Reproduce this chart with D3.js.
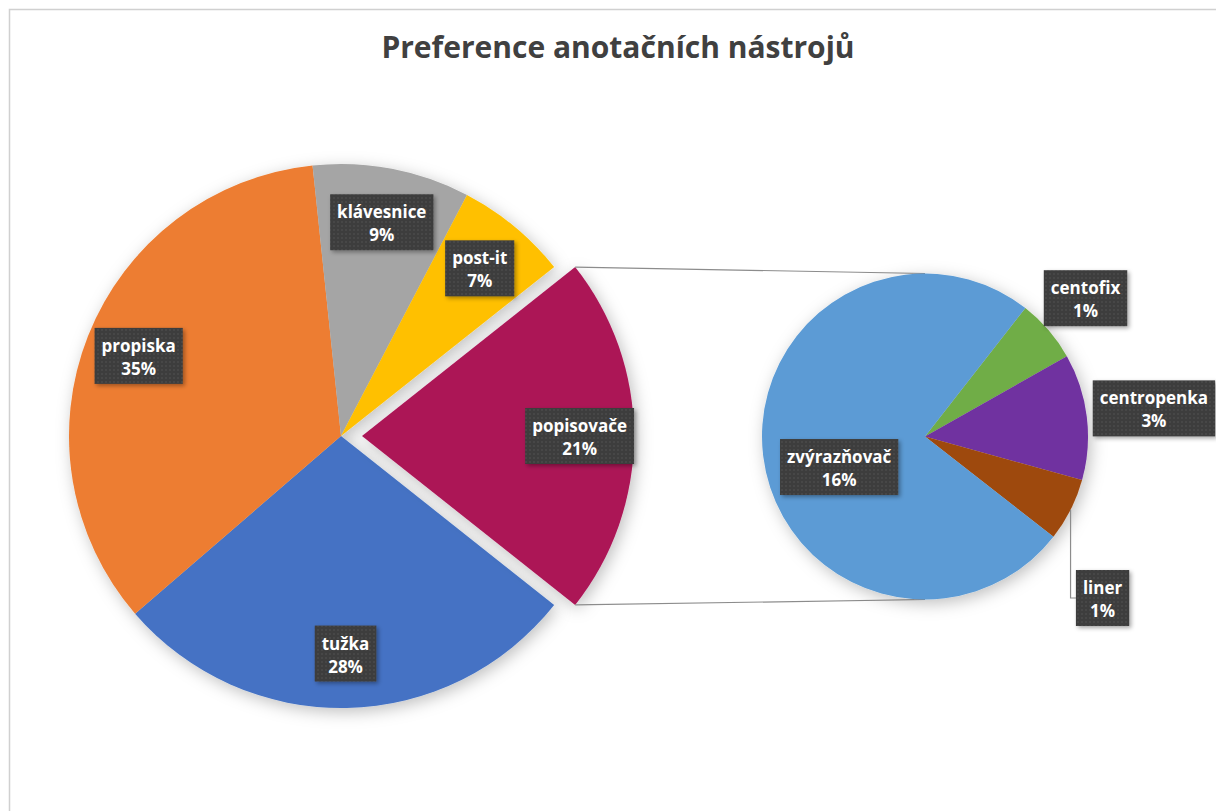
<!DOCTYPE html>
<html>
<head>
<meta charset="utf-8">
<script src="https://cdn.jsdelivr.net/npm/d3@7"></script>
<style>
	body { margin: 0; background: #fff; }
	svg { display: block; }
</style>
</head>
<body>
<script>
// odpovedi (pocty), poradi po smeru hodin od vyjmute vysece
var mainNames = ['popisovače', 'tužka', 'propiska', 'klávesnice', 'post-it'];
var mainCounts = [16, 21, 26, 7, 5];
var mainColors = ['#AC1457', '#4472C4', '#ED7D31', '#A5A5A5', '#FFC000'];

// rozpad popisovacu do druheho kolace
var subNames = ['centofix', 'centropenka', 'liner', 'zvýrazňovač'];
var subCounts = [1, 2, 1, 12];
var subColors = ['#70AD47', '#7030A0', '#9E480E', '#5B9BD5'];

var titleText = 'Preference anotačních nástrojů';

var width = 1216, height = 811;
var total = d3.sum(mainCounts);
var pct = function(v) { return Math.round(v / total * 100) + '%'; };

var cx1 = 341, cy1 = 436, r1 = 272, explode = 21;
var cx2 = 925, cy2 = 436.5, r2 = 163;
var font = '"Open Sans", sans-serif';

var svg = d3.select('body').append('svg')
	.attr('width', width)
	.attr('height', height);

var defs = svg.append('defs');

var pieShadow = defs.append('filter').attr('id', 'pieShadow')
	.attr('x', '-20%').attr('y', '-20%').attr('width', '140%').attr('height', '140%');
pieShadow.append('feDropShadow')
	.attr('dx', 3).attr('dy', 4).attr('stdDeviation', 8)
	.attr('flood-color', '#000').attr('flood-opacity', 0.25);

var boxShadow = defs.append('filter').attr('id', 'boxShadow')
	.attr('x', '-20%').attr('y', '-20%').attr('width', '150%').attr('height', '150%');
boxShadow.append('feDropShadow')
	.attr('dx', 2).attr('dy', 2).attr('stdDeviation', 2)
	.attr('flood-color', '#000').attr('flood-opacity', 0.35);

var dots = defs.append('pattern').attr('id', 'dots')
	.attr('width', 4).attr('height', 4).attr('patternUnits', 'userSpaceOnUse');
dots.append('rect').attr('width', 4).attr('height', 4).attr('fill', '#3d3d3d');
dots.append('circle').attr('cx', 2).attr('cy', 2).attr('r', 0.7).attr('fill', '#575757');

// ramecek grafu
svg.append('rect')
	.attr('x', 9.5).attr('y', 9.5)
	.attr('width', width + 20).attr('height', height + 20)
	.attr('fill', '#fff')
	.attr('stroke', '#d0d0d0')
	.attr('stroke-width', 1.5);

svg.append('text')
	.attr('x', 618).attr('y', 58)
	.attr('text-anchor', 'middle')
	.attr('font-family', font)
	.attr('font-weight', 'bold')
	.attr('font-size', 30)
	.attr('fill', '#404040')
	.text(titleText);

// hlavni kolac
var mainData = mainNames.map(function(n, i) {
	return {name: n, value: mainCounts[i], color: mainColors[i]};
});
var splitAngle = mainCounts[0] / total * 2 * Math.PI;
var start1 = Math.PI / 2 - splitAngle / 2;

var pie1 = d3.pie().sort(null).value(function(d) { return d.value; })
	.startAngle(start1).endAngle(start1 + 2 * Math.PI);
var arcs1 = pie1(mainData);

var arc1 = d3.arc().innerRadius(0).outerRadius(r1);
var labelArc1 = d3.arc().innerRadius(r1 * 0.8).outerRadius(r1 * 0.8);

var g1 = svg.append('g').attr('transform', 'translate(' + cx1 + ',' + cy1 + ')');

g1.append('g').attr('filter', 'url(#pieShadow)')
	.selectAll('path')
	.data(arcs1.slice(1))
	.enter().append('path')
	.attr('d', arc1)
	.attr('fill', function(d) { return d.data.color; });

var split = arcs1[0];
var mid = (split.startAngle + split.endAngle) / 2;
var ox = explode * Math.sin(mid), oy = -explode * Math.cos(mid);

g1.append('g').attr('filter', 'url(#pieShadow)')
	.append('path')
	.datum(split)
	.attr('transform', 'translate(' + ox + ',' + oy + ')')
	.attr('d', arc1)
	.attr('fill', split.data.color);

// spojovaci cary
var lines = svg.append('g');
var corner = function(a) {
	return [cx1 + ox + r1 * Math.sin(a), cy1 + oy - r1 * Math.cos(a)];
};
var topA = corner(split.startAngle), botA = corner(split.endAngle);
[[topA, [cx2, cy2 - r2]], [botA, [cx2, cy2 + r2]]].forEach(function(l) {
	lines.append('line')
		.attr('x1', l[0][0]).attr('y1', l[0][1])
		.attr('x2', l[1][0]).attr('y2', l[1][1])
		.attr('stroke', '#8c8c8c')
		.attr('stroke-width', 1.2);
});

// druhy kolac
var subData = subNames.map(function(n, i) {
	return {name: n, value: subCounts[i], color: subColors[i]};
});
var start2 = 38 * Math.PI / 180;
var pie2 = d3.pie().sort(null).value(function(d) { return d.value; })
	.startAngle(start2).endAngle(start2 + 2 * Math.PI);
var arcs2 = pie2(subData);
var arc2 = d3.arc().innerRadius(0).outerRadius(r2);

var g2 = svg.append('g').attr('transform', 'translate(' + cx2 + ',' + cy2 + ')');
g2.append('g').attr('filter', 'url(#pieShadow)')
	.selectAll('path')
	.data(arcs2)
	.enter().append('path')
	.attr('d', arc2)
	.attr('fill', function(d) { return d.data.color; });

// stitky
var leaders = svg.append('g');
var labels = svg.append('g');

function addLabel(x, y, name, value) {
	var lg = labels.append('g');
	var rect = lg.append('rect').attr('fill', 'url(#dots)').attr('filter', 'url(#boxShadow)');
	var t = lg.append('text')
		.attr('text-anchor', 'middle')
		.attr('font-family', font)
		.attr('font-weight', 'bold')
		.attr('font-size', 17)
		.attr('fill', '#fff');
	t.append('tspan').attr('x', x).attr('y', y - 4).text(name);
	t.append('tspan').attr('x', x).attr('y', y + 19).text(pct(value));
	var w = d3.max(t.selectAll('tspan').nodes(), function(n) { return n.getComputedTextLength(); }) + 14;
	var h = 56;
	rect.attr('x', x - w / 2).attr('y', y - h / 2).attr('width', w).attr('height', h);
	return {node: lg, w: w, h: h};
}

arcs1.forEach(function(d, i) {
	var c = labelArc1.centroid(d);
	var dx = i === 0 ? ox : 0;
	addLabel(cx1 + c[0] + dx, cy1 + c[1], d.data.name, d.data.value);
});

// stitek presunuty dolu s odkazovou carou
var movedLabel = {name: 'liner', dy: 72};

arcs2.forEach(function(d) {
	var a = (d.startAngle + d.endAngle) / 2;
	var frac = d.data.value / d3.sum(subCounts);
	if (frac > 0.25) {
		var ci = d3.arc().innerRadius(r2 * 0.58).outerRadius(r2 * 0.58).centroid(d);
		addLabel(cx2 + ci[0] + 8, cy2 + ci[1] + 19, d.data.name, d.data.value);
		return;
	}
	var ux = Math.sin(a), uy = -Math.cos(a);
	// velikost boxu pred umistenim
	var probe = addLabel(0, -500, d.data.name, d.data.value);
	probe.node.remove();
	var hw = probe.w / 2, hh = probe.h / 2;
	var dist = r2 + 6 + Math.min(hw / Math.max(Math.abs(ux), 1e-6), hh / Math.max(Math.abs(uy), 1e-6));
	var lx = cx2 + dist * ux, ly = cy2 + dist * uy;
	if (d.data.name === movedLabel.name) {
		ly += movedLabel.dy;
		var ex = cx2 + r2 * ux, ey = cy2 + r2 * uy;
		leaders.append('path')
			.attr('d', 'M' + ex + ',' + ey + 'V' + ly + 'H' + (lx - hw))
			.attr('fill', 'none')
			.attr('stroke', '#8c8c8c')
			.attr('stroke-width', 1.2);
	}
	addLabel(lx, ly, d.data.name, d.data.value);
});
</script>
</body>
</html>
